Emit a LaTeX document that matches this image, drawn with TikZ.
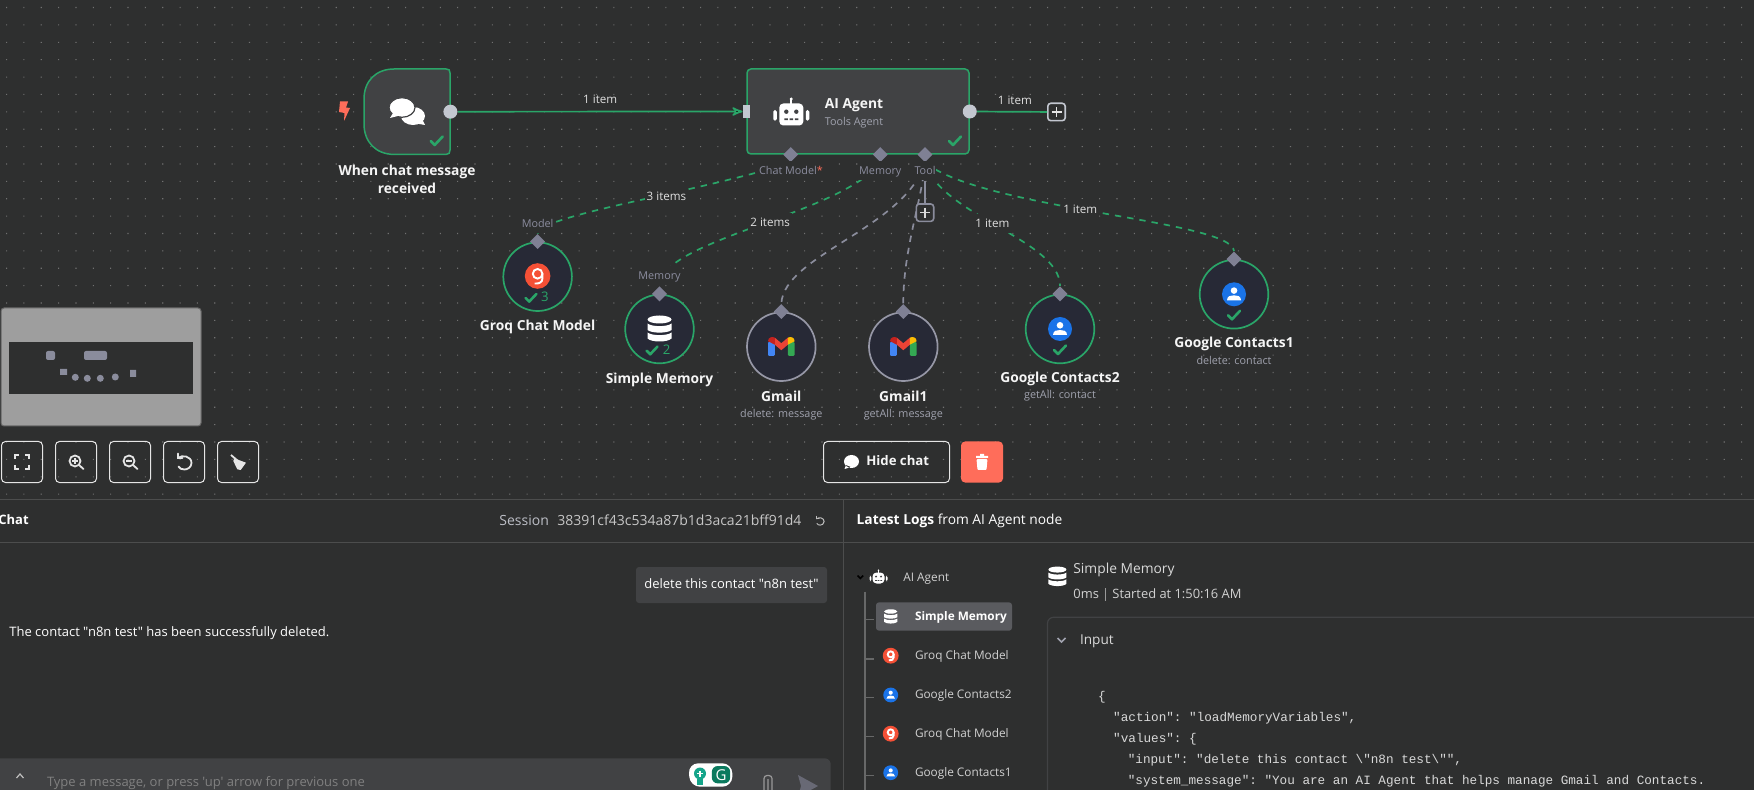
\documentclass[tikz,border=0pt]{standalone}
\usepackage{fontspec}
\setmainfont{Open Sans}[Ligatures=TeXOff]
\setmonofont{Liberation Mono}
\usetikzlibrary{arrows,calc,positioning,shapes.geometric}
\definecolor{canvasbg}{HTML}{2E2F2F}
\definecolor{boxfill}{HTML}{414244}
\definecolor{okgreen}{HTML}{2AA568}
\definecolor{wiregray}{HTML}{8A8C9C}
\definecolor{portgray}{HTML}{7F8094}
\definecolor{roundfill}{HTML}{272936}
\definecolor{dotgray}{HTML}{C3C7D0}
\definecolor{subgray}{HTML}{A0A2AE}
\definecolor{linegray}{HTML}{4C4D4D}
\definecolor{pickgray}{HTML}{5A5B5F}
\definecolor{coral}{HTML}{FF6D5A}
\definecolor{groqred}{HTML}{F55036}
\definecolor{gblue}{HTML}{1A73E8}
\definecolor{mailblue}{HTML}{4285F4}
\definecolor{mailgreen}{HTML}{34A853}
\definecolor{mailred}{HTML}{EA4335}
\definecolor{maildark}{HTML}{C5221F}
\definecolor{mailyellow}{HTML}{FBBC04}
\definecolor{gramlight}{HTML}{15A58A}
\definecolor{gramdark}{HTML}{0B7A5E}
\tikzset{
	pics/checkicon/.style={code={\draw[line width=1.3pt,line cap=round,line join=round] (-6,0) -- (-2,4) -- (6,-4.5);}},
	pics/plusicon/.style={code={\draw[line width=.7pt] (-5,0) -- (5,0) (0,-5) -- (0,5);}},
	pics/dbicon/.style={code={
		\fill (0,-9.5) ellipse [x radius=12,y radius=4];
		\fill (-12,-5.5) .. controls (-8,-2) and (8,-2) .. (12,-5.5) -- (12,1) .. controls (8,4.5) and (-8,4.5) .. (-12,1) -- cycle;
		\fill (-12,3.5) .. controls (-8,7) and (8,7) .. (12,3.5) -- (12,9.5) .. controls (8,13.5) and (-8,13.5) .. (-12,9.5) -- cycle;}},
	pics/roboicon/.style={code={
		\fill[rounded corners=2pt] (-12,-11) rectangle (12,11);
		\fill[rounded corners=.8pt] (-18,-4.5) rectangle (-14.5,6.2) (14.5,-4.5) rectangle (18,6.2);
		\fill (-1,-16) rectangle (1,-10);
		\fill (0,-15.5) circle [radius=1.6];
		\fill[boxfill] (-5,-2.8) circle [radius=2.2] (5,-2.8) circle [radius=2.2];
		\fill[boxfill] (-7,4) rectangle (-3.5,5.7) (-1.7,4) rectangle (1.7,5.7) (3.5,4) rectangle (7,5.7);}},
	pics/groqicon/.style={code={
		\fill[groqred] (0,0) circle [radius=12.8];
		\draw[white,line width=.95pt] (0,-2.2) circle [radius=4.8];
		\draw[white,line width=.95pt] (4.8,-2.5) -- (4.8,2.5) .. controls (4.8,6) and (2,8) .. (-3,7.5);}},
	pics/personicon/.style={code={
		\fill[gblue] (0,0) circle [radius=12];
		\fill[white] (0,-3.7) circle [radius=3.3];
		\fill[white] (-7,6) .. controls (-7,1.5) and (-3,1) .. (0,1) .. controls (3,1) and (7,1.5) .. (7,6) -- cycle;}},
	pics/gmailicon/.style={code={
		\fill[rounded corners=.6pt,mailblue] (-13.3,-5) rectangle (-6.5,9.3);
		\fill[rounded corners=.6pt,mailgreen] (6.5,-5) rectangle (13.3,9.3);
		\fill[mailred] (-6.5,-9) -- (0,-3.5) -- (6.5,-9) -- (6.5,-2) -- (0,3.5) -- (-6.5,-2) -- cycle;
		\fill[maildark] (-13.3,-5.5) .. controls (-13.3,-9.5) and (-9,-10.5) .. (-6.5,-9) -- (-6.5,-2) -- cycle;
		\fill[mailyellow] (13.3,-5.5) .. controls (13.3,-9.5) and (9,-10.5) .. (6.5,-9) -- (6.5,-2) -- cycle;}},
	pics/undoicon/.style={code={
		\draw[line cap=round] (-6,-8.5) -- (-6,-4) -- (-1.5,-4);
		\draw[line cap=round] (-6,-4) .. controls (-2,-7.5) and (7.5,-6) .. (7.5,1) .. controls (7.5,5.5) and (3,7.5) .. (0.5,7.5) .. controls (-2.5,7.5) and (-4.5,6.5) .. (-5.5,4.5);}},
	pics/lensicon/.style={code={
		\draw (-1,-1) circle [radius=5.5];
		\draw[line cap=round] (3,3) -- (7.5,7);}},
	pics/downchevron/.style={code={\draw[line width=.8pt] (-4,-2) -- (0,2) -- (4,-2);}},
}
\begin{document}
\begin{tikzpicture}[x=0.5pt,y=-0.5pt,>=stealth',
	panelfont/.style={font=\fontsize{#1}{#1}\selectfont,inner sep=0pt,text height=.68em,text depth=.30em},
	chatbox/.style={draw=okgreen,line width=.75pt,fill=boxfill},
	agentbox/.style={chatbox,rounded corners=2pt,minimum width=111pt,minimum height=42.5pt},
	roundnode/.style={circle,fill=roundfill,line width=.85pt,minimum size=34.3pt,inner sep=0pt},
	donenode/.style={roundnode,draw=okgreen},
	idlenode/.style={roundnode,draw=wiregray!90!white},
	portmark/.style={diamond,fill=portgray,minimum size=7.6pt,inner sep=0pt},
	outdot/.style={circle,fill=dotgray,minimum size=7pt,inner sep=0pt},
	addbox/.style={draw,rounded corners=1.5pt,line width=.8pt,fill=canvasbg,minimum size=8.7pt,inner sep=0pt},
	flowwire/.style={draw=okgreen,line width=.85pt},
	toolwire/.style={draw=okgreen,line width=.85pt,dash pattern=on 3.2pt off 3pt},
	grayprobe/.style={draw=wiregray,line width=.85pt,dash pattern=on 3.2pt off 3pt},
	wirelabel/.style={panelfont=5.8,text=white!88!black,fill=canvasbg,inner xsep=1pt},
	portlabel/.style={panelfont=5.4,text=portgray!90!white,fill=canvasbg},
	nodetitle/.style={font=\fontsize{6.9}{7}\selectfont\bfseries,inner sep=0pt,text=white!96!black,text height=5.6pt,text depth=0pt},
	nodesub/.style={panelfont=5.4,text=subgray},
	toolbtn/.style={draw=white!90!black,line width=.5pt,rounded corners=2pt,minimum width=20.5pt,minimum height=20.5pt,inner sep=0pt},
	uitext/.style={panelfont=6.5,anchor=west,text=white!85!black},
	treetext/.style={panelfont=5.9,anchor=west,text=white!82!black},
	codeline/.style={anchor=west,inner sep=0pt,font=\ttfamily\fontsize{6.33}{8}\selectfont,text=white!85!black},
	]
	\clip (0,0) rectangle (1754,790);
	\fill[canvasbg] (0,0) rectangle (1754,790);
	% canvas dots
	\fill[white!32!canvasbg] \foreach \gy in {0,...,28} {\foreach \gx in {0,...,100} {
		({6+17.35*\gx},{7+17.38*\gy}) rectangle +(1.1,1.1)}};

	% workflow nodes
	\node (chattrigger) at (407,111.7) [minimum size=43pt,inner sep=0pt] {};
	\draw[chatbox] (394,69) -- (446,69) .. controls (449,69) and (450,70) .. (450,73) -- (450,150) .. controls (450,153) and (449,154.4) .. (446,154.4) -- (394,154.4) .. controls (376,154.4) and (364,142) .. (364,124) -- (364,99) .. controls (364,81) and (376,69) .. (394,69) -- cycle;
	\node[outdot] (chatout) at (chattrigger.east) {};
	\fill[coral] (340,101.5) -- (348,101.5) -- (346,107.5) -- (350,108) -- (344,121) -- (344.5,113) -- (339,112) -- cycle;
	\fill[white] (413,116) ellipse [x radius=12,y radius=9];
	\fill[white] (422,119) -- (425,125) -- (413,123) -- cycle;
	\fill[white,draw=boxfill,line width=.6pt] (402,107.5) ellipse [x radius=13,y radius=9.8];
	\fill[white] (393,113) -- (390,118) -- (400,115.5) -- cycle;
	\pic[okgreen] at (436.7,141) {checkicon};
	\node[nodetitle] (chattitle) at (407,169.6) {When chat message};
	\node[nodetitle] (chattitleb) at (407,187.6) {received};

	\node[agentbox] (agent) at (858,111.5) {};
	\node[fill=dotgray,minimum width=3.5pt,minimum height=6.5pt,inner sep=0pt] (agentin) at (746.5,111.5) {};
	\node[outdot] (agentout) at (agent.east) {};
	\pic[white] at (791.3,114.5) {roboicon};
	\node[nodetitle] (agenttitle) at (854,102.6) {AI Agent};
	\node[nodesub] (agentsub) at (854,122) {Tools Agent};
	\pic[okgreen] at (955,141) {checkicon};

	\node[addbox,draw=dotgray] (agentadd) at (1056.5,112) {};
	\pic[white!90!black] at (agentadd) {plusicon};

	\node[portmark] (chatport) at (790.7,154.6) {};
	\node[portmark] (memoryport) at (880.3,154.6) {};
	\node[portmark] (toolport) at (925,154.6) {};
	\foreach \px in {790.7,880.3,925} {
		\fill[okgreen] (\px-4.5,165.5) -- (\px,161) -- (\px+4.5,165.5) -- cycle;
	}

	\node[donenode] (groq) at (537.6,276.7) {};
	\node[portmark] (groqport) at (groq.north) {};
	\node[donenode] (memory) at (659.5,329) {};
	\node[portmark] (memoryin) at (memory.north) {};
	\node[idlenode] (gmail) at (781.3,346.7) {};
	\node[portmark] (gmailin) at (gmail.north) {};
	\node[idlenode] (gmailb) at (903.3,346.7) {};
	\node[portmark] (gmailbin) at (gmailb.north) {};
	\node[donenode] (contactsb) at (1060,329) {};
	\node[portmark] (contactsbin) at (contactsb.north) {};
	\node[donenode] (contactsa) at (1234,294.3) {};
	\node[portmark] (contactsain) at (contactsa.north) {};

	% connectors
	\path[flowwire,->] (chatout) edge node[wirelabel,fill=none,above=.4pt] {1 item} (agentin.west);
	\path[flowwire] (agentout) edge node[wirelabel,fill=none,above=.4pt,pos=.54] {1 item} (agentadd);
	\draw[toolwire] (chatport.south) .. controls (700,192) and (540,215) .. node[wirelabel,pos=.39,yshift=-1.5pt] {3 items} (groqport.north);
	\draw[toolwire] (memoryport.south) .. controls (840,215) and (660,240) .. node[wirelabel,pos=.45,yshift=-1pt] {2 items} (memoryin.north);
	\draw[grayprobe] (toolport.south) .. controls (905,228) and (784,255) .. (gmailin.north);
	\draw[grayprobe] (toolport.south) .. controls (922,200) and (903,250) .. (gmailbin.north);
	\draw[toolwire] (toolport.south) .. controls (940,215) and (1060,240) .. node[wirelabel,pos=.47] {1 item} (contactsbin.north);
	\draw[toolwire] (toolport.south) .. controls (985,210) and (1232,220) .. node[wirelabel,pos=.45] {1 item} (contactsain.north);

	\node[portlabel] (chatportlabel) at (791,170.7) {Chat Model\textcolor{coral}{*}};
	\node[portlabel] (memoryportlabel) at (880.3,170.7) {Memory};
	\node[portlabel] (toolportlabel) at (925,170.7) {Tool};
	\node[addbox,draw=wiregray] (tooladd) at (925,212.7) {};
	\draw[wiregray,line width=.85pt] (toolportlabel.south) -- (tooladd.north);
	\pic[white!85!black] at (tooladd) {plusicon};
	\node[portlabel] (groqportlabel) at (537.6,223.3) {Model};
	\node[portlabel] (memoryinlabel) at (659.5,275.7) {Memory};

	% icons in the round nodes
	\pic at (537.6,276) {groqicon};
	\pic[okgreen] at (531,298) [scale=.9] {checkicon};
	\node[panelfont=6.6,text=okgreen] (groqcount) at (545,297.7) {3};
	\pic[white] at (659.5,329) {dbicon};
	\pic[okgreen] at (652,350.7) [scale=.9] {checkicon};
	\node[panelfont=6.6,text=okgreen] (memorycount) at (666.6,350.7) {2};
	\pic at (gmail) {gmailicon};
	\pic at (gmailb) {gmailicon};
	\pic at (1060,329) {personicon};
	\pic[okgreen] at (1060,350) {checkicon};
	\pic at (1234,294.3) {personicon};
	\pic[okgreen] at (1234,315.3) {checkicon};

	\node[nodetitle,below=3.5pt of groq] (groqtitle) {Groq Chat Model};
	\node[nodetitle,below=4pt of memory] (memorytitle) {Simple Memory};
	\node[nodetitle,below=4pt of gmail] (gmailtitle) {Gmail};
	\node[nodesub,below=1pt of gmailtitle] {delete: message};
	\node[nodetitle,below=4pt of gmailb] (gmailbtitle) {Gmail1};
	\node[nodesub,below=1pt of gmailbtitle] {getAll: message};
	\node[nodetitle,below=3.4pt of contactsb] (contactsbtitle) {Google Contacts2};
	\node[nodesub,below=1pt of contactsbtitle] {getAll: contact};
	\node[nodetitle,below=3.4pt of contactsa] (contactsatitle) {Google Contacts1};
	\node[nodesub,below=1pt of contactsatitle] {delete: contact};

	% minimap
	\draw[fill=white!62!black,draw=white!40!black,rounded corners=1.5pt,line width=.5pt] (1,308) rectangle (201,426);
	\fill[canvasbg] (8.7,342) rectangle (193.3,394);
	\fill[wiregray,rounded corners=1pt] (46,351) rectangle (55,360) (84,351) rectangle (107,360);
	\fill[wiregray] (60,369) rectangle (67,375) (130,370) rectangle (136,377);
	\foreach \mx/\my in {75.3/377.3,87.3/378.3,100.3/378.3,115.3/377} {
		\fill[wiregray] (\mx,\my) circle [radius=3.5];
	}

	% canvas buttons
	\foreach \bx/\bname in {22/fit,76/zoomin,130/zoomout,184/undo,238/tidy} {
		\node[toolbtn] (btn\bname) at (\bx,462) {};
	}
	\draw[white!90!black,line width=.9pt] (15,459) -- (15,455) -- (19,455) (25,455) -- (29,455) -- (29,459) (29,465) -- (29,469) -- (25,469) (19,469) -- (15,469) -- (15,465);
	\pic[white!90!black,line width=.9pt] at (btnzoomin) {lensicon};
	\draw[white!90!black,line width=.6pt] (72,461) -- (78,461) (75,458) -- (75,464);
	\pic[white!90!black,line width=.9pt] at (btnzoomout) {lensicon};
	\draw[white!90!black,line width=.6pt] (126,461) -- (132,461);
	\pic[white!90!black,line width=.9pt] at (btnundo) {undoicon};
	\draw[white!90!black,line width=.9pt] (231,455) -- (238,461);
	\fill[white!90!black] (234.3,458.3) -- (246,462.7) -- (240.7,470) -- (237.3,469.3) -- (233.3,461) -- cycle;

	\node[draw=white!90!black,line width=.5pt,rounded corners=2pt,minimum width=63pt,minimum height=20.5pt,inner sep=0pt] (hidechat) at (886.5,462) {};
	\fill[white] (851.5,461.5) ellipse [x radius=7.5,y radius=6.5] (846,465) -- (844.5,469) -- (851,467) -- cycle;
	\node[nodetitle,font=\fontsize{6.6}{7}\selectfont\bfseries,text height=5pt] (hidechattext) at (897.7,461) {Hide chat};
	\node[fill=coral,rounded corners=2pt,minimum width=21pt,minimum height=20.5pt,inner sep=0pt] (trash) at (982,462) {};
	\fill[white] (976,456) rectangle (988,458) (980,454) rectangle (984,456);
	\fill[white,rounded corners=.5pt] (976.5,459) -- (987.5,459) -- (986.5,470) -- (977.5,470) -- cycle;

	% lower panels
	\draw[linegray,line width=.6pt] (0,499.3) -- (1754,499.3) (0,542.3) -- (1754,542.3) (843.5,499.3) -- (843.5,790);
	\node[uitext,font=\fontsize{6.5}{7}\selectfont\bfseries,text=white] (chathead) at (-2,521) {Chat};
	\node[uitext,font=\fontsize{7}{7}\selectfont,text=subgray!70!white] (session) at (499,521.5) {Session};
	\node[uitext,font=\fontsize{7}{7}\selectfont,text=white!78!black] (sessionid) at (557,521.5) {38391cf43c534a87b1d3aca21bff91d4};
	\pic[white!75!black,line width=.5pt,scale=.55] at (820,521) {undoicon};
	\node[fill=boxfill,rounded corners=1.5pt,minimum width=95.5pt,minimum height=18pt,inner sep=0pt] (userbubble) at (731.5,585) {};
	\node[panelfont=6.5,text=white] (usertext) at (userbubble) {delete this contact "n8n test"};
	\node[uitext,text=white] (botmessage) at (9,632.7) {The contact "n8n test" has been successfully deleted.};
	\fill[boxfill,rounded corners=3pt] (-8,758.3) rectangle (830.7,800);
	\draw[white!75!black,line width=.6pt] (16.5,778) -- (20,774) -- (23.5,778);
	\node[uitext,text=white!50!black] (chatinput) at (46.6,782.7) {Type a message, or press 'up' arrow for previous one};
	\path[fill=white,rounded corners=5pt] (690,786.7) -- (688.3,763.3) -- (732.3,763.3) -- (732.3,786.7) -- cycle;
	\fill[gramlight] (700,773.5) circle [radius=6];
	\fill[gramlight] (697,779) rectangle (703,784.5);
	\draw[white,line width=.6pt] (697,773.5) -- (703,773.5) (700,770.5) -- (700,776.5);
	\node[fill=gramdark,rounded corners=3pt,minimum width=9.2pt,minimum height=8.7pt,inner sep=0pt,text=white,font=\fontsize{7.5}{7}\selectfont] (grammarlyg) at (721,774.7) {G};
	\draw[white!60!black,line width=.6pt,rounded corners=1.5pt] (764,795) -- (764,775.5) -- (772,775.5) -- (772,795) (768,779) -- (768,795);
	\fill[wiregray!75!black] (798,775) -- (818,786) -- (798,797) -- (801,786) -- cycle;

	\node[uitext,font=\fontsize{6.88}{7}\selectfont,text=white] (logshead) at (856.3,521) {\textbf{Latest Logs} from AI Agent node};

	\pic[black,line width=.7pt] at (860.4,577) [scale=.7] {downchevron};
	\pic[white,scale=.5] at (878.5,578) {roboicon};
	\node[treetext] (treeroot) at (903,578) {AI Agent};
	\node[fill=pickgray,rounded corners=1.5pt,minimum width=68pt,minimum height=14.2pt,inner sep=0pt] (treepick) at (944,616.5) {};
	\draw[linegray!85!white,line width=.7pt] (865,591.7) -- (865,790);
	\foreach \ty in {619.7,659,697.7,736.7,775.7} {
		\draw[linegray!85!white,line width=.7pt] (865,\ty) -- (874,\ty);
	}
	\pic[white,scale=.55] at (890.7,616.7) {dbicon};
	\node[treetext,font=\fontsize{5.9}{7}\selectfont\bfseries,text=white] (treememory) at (914.6,616.7) {Simple Memory};
	\pic[scale=.62] at (890.7,655.7) {groqicon};
	\node[treetext] (treegroq) at (914.6,655.7) {Groq Chat Model};
	\pic[scale=.62] at (890.7,695) {personicon};
	\node[treetext] (treecontactsb) at (914.6,695) {Google Contacts2};
	\pic[scale=.62] at (890.7,733.7) {groqicon};
	\node[treetext] (treegroqb) at (914.6,733.7) {Groq Chat Model};
	\pic[scale=.62] at (890.7,772.7) {personicon};
	\node[treetext] (treecontactsa) at (914.6,772.7) {Google Contacts1};

	\pic[white,scale=.75] at (1057.4,576.7) {dbicon};
	\node[uitext,font=\fontsize{6.9}{7}\selectfont] (logtitle) at (1073,570) {Simple Memory};
	\node[treetext,font=\fontsize{6.45}{7}\selectfont] (logtime) at (1073,594.3) {0ms};
	\draw[white!60!black,line width=.4pt] (1105,588) -- (1105,601);
	\node[treetext,font=\fontsize{6.45}{7}\selectfont] (logstart) at (1112,594.3) {Started at 1:50:16 AM};
	\draw[boxfill,line width=.6pt,rounded corners=3pt] (1047.5,800) -- (1047.5,617.3) -- (1770,617.3);
	\pic[subgray] at (1061.5,640) {downchevron};
	\node[uitext,font=\fontsize{6.8}{7}\selectfont] (inputhead) at (1079.6,641) {Input};
	\node[codeline] (codea) at (1097.6,697.7) {\{};
	\node[codeline] (codeb) at (1112.8,718.3) {"action": "loadMemoryVariables",};
	\node[codeline] (codec) at (1112.8,739.7) {"values": \{};
	\node[codeline] (coded) at (1127.4,760.7) {"input": "delete this contact \textbackslash"n8n test\textbackslash"",};
	\node[codeline] (codee) at (1127.4,781.7) {"system\_message": "You are an AI Agent that helps manage Gmail and Contacts.};
\end{tikzpicture}
\end{document}
